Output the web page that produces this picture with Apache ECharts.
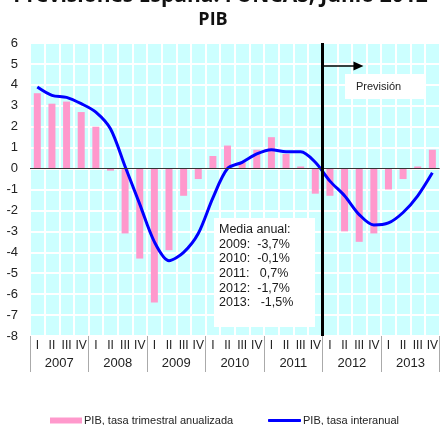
<!DOCTYPE html>
<html>
<head>
<meta charset="utf-8">
<style>
  html, body { margin: 0; padding: 0; background: #ffffff; }
  #chart { width: 441px; height: 425px; }
</style>
<script src="https://cdn.jsdelivr.net/npm/echarts@6/dist/echarts.min.js"></script>
</head>
<body>
<div id="chart"></div>
<script>
// Spanish GDP: quarterly annualized rate (bars) and year-on-year rate (line)
const years = ['2007', '2008', '2009', '2010', '2011', '2012', '2013'];
const quarterNames = ['I', 'II', 'III', 'IV'];

const quarterlyAnnualized = [
  3.6, 3.1, 3.2, 2.7,
  2.0, -0.1, -3.1, -4.3,
  -6.4, -3.9, -1.3, -0.5,
  0.6, 1.1, 0.3, 0.9,
  1.5, 0.7, 0.1, -1.2,
  -1.3, -3.0, -3.5, -3.1,
  -1.0, -0.5, 0.1, 0.9
];

const yearOnYear = [
  3.9, 3.5, 3.4, 3.1,
  2.7, 1.9, 0.1, -1.7,
  -3.5, -4.4, -4.0, -3.1,
  -1.4, 0.0, 0.3, 0.7,
  0.9, 0.8, 0.8, 0.3,
  -0.6, -1.3, -2.2, -2.7,
  -2.6, -2.1, -1.3, -0.2
];

const annualAverages = [
  '2009:  -3,7%',
  '2010:  -0,1%',
  '2011:   0,7%',
  '2012:  -1,7%',
  '2013:   -1,5%'
];

const forecastStartYear = '2012';
const yTicks = { min: -8, max: 6, step: 1 };

const categories = years.flatMap(y => quarterNames.map(q => y + ' ' + q));
const forecastIndex = categories.indexOf(forecastStartYear + ' I');

const sans = '"Liberation Sans", Arial, sans-serif';
const textColor = '#222222';

const chart = echarts.init(document.getElementById('chart'), null, { renderer: 'canvas' });

chart.setOption({
  animation: false,
  backgroundColor: '#ffffff',
  grid: {
    left: 30, right: 0, top: 43, bottom: 89,
    show: true, backgroundColor: '#ccffff', borderWidth: 0
  },
  xAxis: [
    {
      type: 'category',
      data: categories,
      position: 'bottom',
      axisLine: { show: false },
      axisTick: { show: false },
      axisLabel: {
        interval: 0, margin: 4,
        fontFamily: sans, fontSize: 12, color: textColor,
        formatter: v => v.split(' ')[1]
      },
      splitLine: { show: true, interval: 0, lineStyle: { color: '#ffffff', width: 2 } }
    },
    {
      type: 'category',
      data: years,
      position: 'bottom',
      axisLine: { show: false },
      axisTick: { show: true, length: 36, lineStyle: { color: '#aaaaaa', width: 1 } },
      axisLabel: { margin: 21, fontFamily: sans, fontSize: 13, color: textColor },
      splitLine: { show: false }
    },
    {
      type: 'value', min: 0, max: categories.length, show: false
    }
  ],
  yAxis: {
    type: 'value',
    min: yTicks.min, max: yTicks.max, interval: yTicks.step,
    axisLine: { show: false },
    axisTick: { show: false },
    axisLabel: { margin: 12, fontFamily: sans, fontSize: 13, color: textColor },
    splitLine: { show: true, lineStyle: { color: '#ffffff', width: 2 } }
  },
  legend: [
    {
      data: [{ name: 'PIB, tasa trimestral anualizada', icon: 'rect' }],
      left: 45, top: 410,
      itemWidth: 32, itemHeight: 6,
      textStyle: { fontFamily: sans, fontSize: 11, color: textColor, padding: [0, 0, 0, -3] }
    },
    {
      data: [{ name: 'PIB, tasa interanual', icon: 'roundRect', itemStyle: { color: '#0000ff' } }],
      left: 263, top: 410,
      itemWidth: 33, itemHeight: 3,
      textStyle: { fontFamily: sans, fontSize: 11, color: textColor, padding: [0, 0, 0, -3] }
    }
  ],
  series: [
    {
      name: 'PIB, tasa trimestral anualizada',
      type: 'bar',
      xAxisIndex: 0,
      data: quarterlyAnnualized,
      barWidth: 7,
      itemStyle: { color: '#ff99cc' },
      z: 2,
      markLine: {
        silent: true,
        symbol: 'none',
        label: { show: false },
        lineStyle: { color: '#333333', width: 1, type: 'solid' },
        data: [{ yAxis: 0 }]
      }
    },
    {
      name: 'PIB, tasa interanual',
      type: 'line',
      xAxisIndex: 0,
      data: yearOnYear,
      symbol: 'none',
      smooth: 0.3,
      lineStyle: { color: '#0000ff', width: 3 },
      itemStyle: { color: '#0000ff' },
      z: 4
    },
    {
      name: 'forecast',
      type: 'line',
      xAxisIndex: 2,
      data: [],
      z: 5,
      markLine: {
        silent: true,
        animation: false,
        symbol: ['none', 'none'],
        label: { show: false },
        data: [
          {
            xAxis: forecastIndex,
            lineStyle: { color: '#000000', width: 3, type: 'solid' }
          },
          [
            { coord: [forecastIndex, 4.9], symbol: 'none', lineStyle: { color: '#000000', width: 1.5, type: 'solid' } },
            { coord: [forecastIndex + 2.45, 4.9], symbol: 'triangle', symbolSize: [9, 10] }
          ]
        ]
      }
    }
  ],
  graphic: [
    {
      type: 'text', left: 'center', top: -14, z: 100,
      style: {
        text: 'Previsiones España: FUNCAS, Junio 2012',
        font: '700 21px "Open Sans", sans-serif', fill: '#111111'
      }
    },
    {
      type: 'text', x: 213, y: 20, z: 100,
      style: {
        text: 'PIB', align: 'center', verticalAlign: 'middle',
        font: '700 18px "Open Sans", sans-serif', fill: '#111111'
      }
    },
    {
      type: 'rect', z: 100,
      shape: { x: 345, y: 74, width: 79, height: 25 },
      style: { fill: '#ffffff' }
    },
    {
      type: 'text', x: 356, y: 87, z: 101,
      style: {
        text: 'Previsión', verticalAlign: 'middle',
        font: '11px "Liberation Sans", Arial, sans-serif', fill: textColor
      }
    },
    {
      type: 'rect', z: 100,
      shape: { x: 214, y: 218, width: 101, height: 109 },
      style: { fill: '#ffffff' }
    },
    {
      type: 'text', x: 219, y: 222, z: 101,
      style: {
        text: ['Media anual:'].concat(annualAverages).join('\n'),
        lineHeight: 14.7,
        font: '12.5px "Liberation Sans", Arial, sans-serif', fill: '#1a1a1a'
      }
    }
  ]
});
</script>
</body>
</html>
